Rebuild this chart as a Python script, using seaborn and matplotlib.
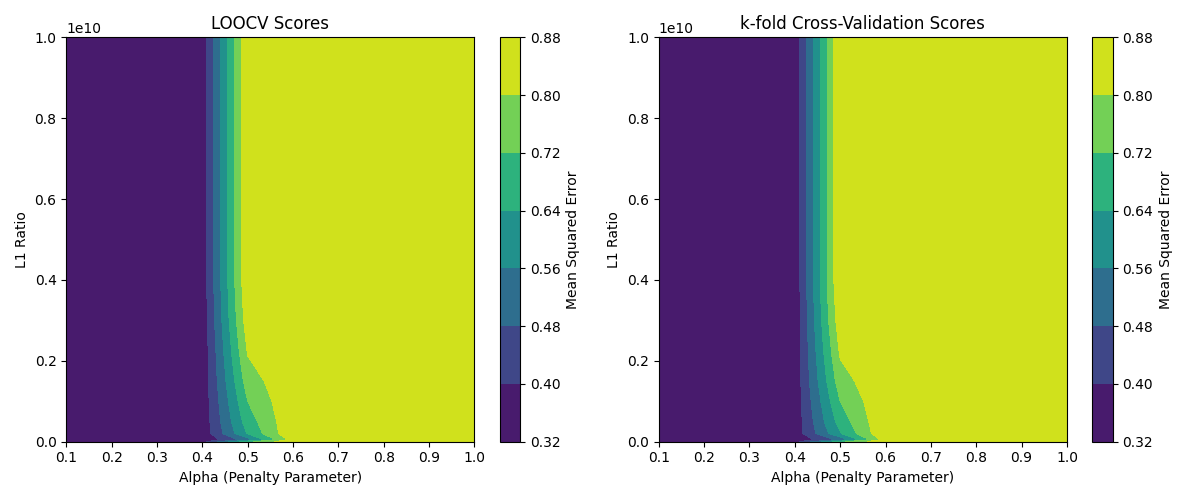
import numpy as np
import matplotlib
matplotlib.use("Agg")
import matplotlib.pyplot as plt
import seaborn as sns

# ---- data ----
alphas = [0.1, 0.2, 0.3, 0.4, 0.5, 0.6, 0.7, 0.8, 0.9, 1.0]
l1_ratios = [0.0, 5e7, 2e8, 5e8, 1e9, 1.5e9, 2.2e9, 3e9, 4e9, 1e10]

loocv_scores = [
    [0.330, 0.331, 0.334, 0.370, 0.700, 0.870, 0.871, 0.872, 0.872, 0.873],
    [0.330, 0.330, 0.332, 0.330, 0.520, 0.840, 0.871, 0.872, 0.872, 0.873],
    [0.330, 0.331, 0.334, 0.344, 0.646, 0.871, 0.872, 0.872, 0.873, 0.873],
    [0.330, 0.331, 0.334, 0.344, 0.680, 0.868, 0.872, 0.872, 0.873, 0.873],
    [0.330, 0.331, 0.334, 0.344, 0.720, 0.870, 0.872, 0.872, 0.873, 0.873],
    [0.330, 0.331, 0.334, 0.343, 0.760, 0.870, 0.872, 0.872, 0.873, 0.873],
    [0.330, 0.331, 0.334, 0.340, 0.805, 0.870, 0.872, 0.872, 0.873, 0.873],
    [0.330, 0.331, 0.334, 0.345, 0.845, 0.870, 0.872, 0.872, 0.873, 0.873],
    [0.330, 0.331, 0.334, 0.350, 0.869, 0.870, 0.872, 0.872, 0.873, 0.873],
    [0.330, 0.331, 0.334, 0.350, 0.869, 0.870, 0.872, 0.872, 0.873, 0.873],
]

kfold_scores = [
    [0.330, 0.331, 0.334, 0.370, 0.700, 0.870, 0.871, 0.872, 0.872, 0.873],
    [0.330, 0.330, 0.332, 0.330, 0.500, 0.840, 0.871, 0.872, 0.872, 0.873],
    [0.330, 0.331, 0.334, 0.349, 0.632, 0.875, 0.872, 0.872, 0.873, 0.873],
    [0.330, 0.331, 0.334, 0.347, 0.675, 0.873, 0.872, 0.872, 0.873, 0.873],
    [0.330, 0.331, 0.334, 0.345, 0.720, 0.875, 0.872, 0.872, 0.873, 0.873],
    [0.330, 0.331, 0.334, 0.345, 0.765, 0.875, 0.872, 0.872, 0.873, 0.873],
    [0.330, 0.331, 0.334, 0.340, 0.810, 0.875, 0.872, 0.872, 0.873, 0.873],
    [0.330, 0.331, 0.334, 0.340, 0.850, 0.875, 0.872, 0.872, 0.873, 0.873],
    [0.330, 0.331, 0.334, 0.340, 0.875, 0.875, 0.872, 0.872, 0.873, 0.873],
    [0.330, 0.331, 0.334, 0.340, 0.875, 0.875, 0.872, 0.872, 0.873, 0.873],
]

levels = [0.32, 0.40, 0.48, 0.56, 0.64, 0.72, 0.80, 0.88]
titles = ["LOOCV Scores", "k-fold Cross-Validation Scores"]

# ---- plot ----
cmap = sns.color_palette("viridis", as_cmap=True)
fig, axes = plt.subplots(1, 2, figsize=(12, 5), dpi=100)
X, Y = np.meshgrid(alphas, l1_ratios)
for ax, scores, title in zip(axes, [loocv_scores, kfold_scores], titles):
    cs = ax.contourf(X, Y, np.array(scores), levels=levels, cmap=cmap)
    cb = fig.colorbar(cs, ax=ax)
    cb.set_label("Mean Squared Error")
    ax.set_title(title)
    ax.set_xlabel("Alpha (Penalty Parameter)")
    ax.set_ylabel("L1 Ratio")
    ax.set_xticks(alphas)
fig.tight_layout()
fig.savefig("out.png", dpi=100)
